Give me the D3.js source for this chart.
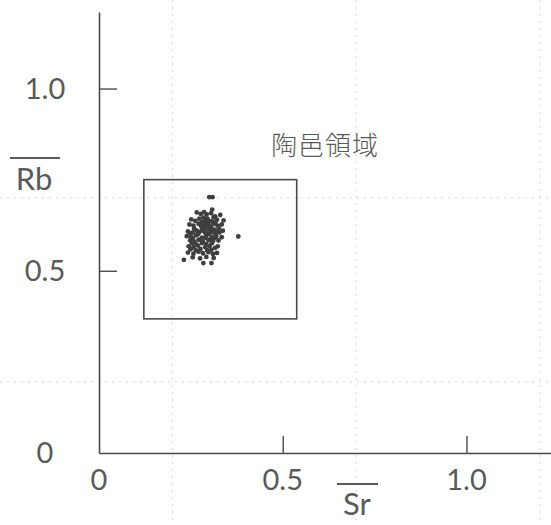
<!DOCTYPE html>
<html><head><meta charset="utf-8">
<script src="https://cdn.jsdelivr.net/npm/d3@7"></script>
<style>html,body{margin:0;padding:0;background:#fff;}svg{display:block;}</style>
</head><body>
<svg id="c" width="551" height="525"></svg>
<script>
// ---- data ----
const xTicks = [0.5, 1.0];
const yTicks = [0.5, 1.0];
const xTickLabels = ["0", "0.5", "1.0"];
const xTickLabelValues = [0, 0.5, 1.0];
const yTickLabels = ["0", "0.5", "1.0"];
const yTickLabelValues = [0, 0.5, 1.0];
const xTitle = "Sr";
const yTitle = "Rb";
const regionLabel = "陶邑領域";
// region box [x0, x1, y0, y1]
const regionBox = [0.122, 0.538, 0.368, 0.750];
// faint background grid (graph paper)
const gridX = [0.2, 0.7, 1.2];
const gridY = [0.195, 0.70];
// samples: Sr, Rb
const srVals = [
  0.300,0.309, 0.308,
  0.266,0.277,0.286,0.293,0.305, 0.316,0.330,
  0.251,0.262,0.273,0.289,0.296,0.307,0.321,0.339,
  0.246,0.257,0.271,0.278,0.287,0.298,0.305,0.316,0.323,0.334,
  0.242,0.255,0.266,0.273,0.285,0.292,0.303,0.310,0.321,0.328,0.337,
  0.239,0.251,0.264,0.280,0.292,0.307,0.319,0.334,0.379,
  0.248,0.260,0.271,0.283,0.298,0.310,0.325,
  0.244,0.257,0.269,0.289,0.301,0.316,0.323,
  0.242,0.257,0.271,0.283,0.298,0.310,0.321,
  0.255,0.275,0.292,0.312,
  0.231,0.284,0.306,
  0.280,0.291,0.299,0.310,0.317,
  0.259,0.280,0.287,0.298,0.305,0.314,0.326,
  0.248,0.269,0.289,0.299,0.316,
  0.255,0.276,0.289,0.303,0.315,
  0.253,0.265,0.280,0.292,0.307,
  0.249,0.264,0.276,0.294,0.306,
  0.284,0.293,0.312,
  0.291,0.301
];
const rbVals = [
  0.702,0.702, 0.668,
  0.660,0.656,0.661,0.655,0.658, 0.649,0.653,
  0.641,0.637,0.643,0.639,0.642,0.636,0.640,0.638,
  0.627,0.624,0.629,0.623,0.628,0.625,0.622,0.628,0.624,0.627,
  0.608,0.605,0.610,0.606,0.609,0.604,0.611,0.606,0.608,0.605,0.610,
  0.595,0.592,0.597,0.591,0.596,0.593,0.595,0.592,0.594,
  0.583,0.580,0.585,0.579,0.584,0.581,0.583,
  0.567,0.564,0.569,0.565,0.568,0.563,0.567,
  0.550,0.547,0.552,0.548,0.551,0.546,0.549,
  0.537,0.534,0.538,0.535,
  0.530,0.521,0.521,
  0.634,0.631,0.635,0.632,0.634,
  0.616,0.613,0.617,0.614,0.616,0.613,0.617,
  0.603,0.600,0.604,0.601,0.603,
  0.589,0.586,0.590,0.587,0.589,
  0.575,0.572,0.576,0.573,0.575,
  0.559,0.556,0.560,0.557,0.558,
  0.646,0.644,0.647,
  0.621,0.619
];

// ---- chart ----
const svg = d3.select("#c");
const x = d3.scaleLinear().domain([0, 1.23]).range([99, 551]);
const y = d3.scaleLinear().domain([0, 1.21]).range([453, 12]);
const ink = "#4a4a4a";
const textInk = "#5a5a5a";
const font = "Lato, 'DejaVu Sans', sans-serif";

// faint grid
svg.append("g").selectAll("line").data(gridX).join("line")
  .attr("x1", d => x(d)).attr("x2", d => x(d)).attr("y1", 0).attr("y2", 525)
  .attr("stroke", "#d4d4d4").attr("stroke-width", 1).attr("stroke-dasharray", "2,5");
svg.append("g").selectAll("line").data(gridY).join("line")
  .attr("x1", 0).attr("x2", 551).attr("y1", d => y(d)).attr("y2", d => y(d))
  .attr("stroke", "#d4d4d4").attr("stroke-width", 1).attr("stroke-dasharray", "2,5");

// axes
const xAxis = svg.append("g").attr("transform", `translate(0,${y(0)})`)
  .call(d3.axisBottom(x).tickValues(xTicks).tickSizeInner(-17).tickSizeOuter(0).tickFormat(""));
const yAxis = svg.append("g").attr("transform", `translate(${x(0)},0)`)
  .call(d3.axisLeft(y).tickValues(yTicks).tickSizeInner(-18).tickSizeOuter(0).tickFormat(""));
[xAxis, yAxis].forEach(g => {
  g.select(".domain").attr("stroke", ink).attr("stroke-width", 1.6);
  g.selectAll(".tick line").attr("stroke", ink).attr("stroke-width", 1.4);
});

// tick labels
svg.append("g").selectAll("text").data(xTickLabelValues).join("text")
  .attr("x", d => x(d)).attr("y", 490).attr("text-anchor", "middle")
  .attr("font-family", font).attr("font-size", 29).attr("fill", textInk)
  .text((d, i) => xTickLabels[i]);
svg.append("g").selectAll("text").data(yTickLabelValues).join("text")
  .attr("x", 45).attr("y", d => y(d)).attr("dy", "0.36em").attr("text-anchor", "middle")
  .attr("font-family", font).attr("font-size", 29).attr("fill", textInk)
  .text((d, i) => yTickLabels[i]);

// axis titles with overline
svg.append("text").attr("x", 357).attr("y", 515).attr("text-anchor", "middle")
  .attr("font-family", font).attr("font-size", 31).attr("fill", textInk).text(xTitle);
svg.append("line").attr("x1", 337).attr("x2", 378).attr("y1", 484).attr("y2", 484)
  .attr("stroke", textInk).attr("stroke-width", 1.8);
svg.append("text").attr("x", 34).attr("y", 190).attr("text-anchor", "middle")
  .attr("font-family", font).attr("font-size", 31).attr("fill", textInk).text(yTitle);
svg.append("line").attr("x1", 10).attr("x2", 60).attr("y1", 158).attr("y2", 158)
  .attr("stroke", textInk).attr("stroke-width", 1.8);

// region box
svg.append("rect")
  .attr("x", x(regionBox[0])).attr("y", y(regionBox[3]))
  .attr("width", x(regionBox[1]) - x(regionBox[0]))
  .attr("height", y(regionBox[2]) - y(regionBox[3]))
  .attr("fill", "none").attr("stroke", ink).attr("stroke-width", 1.6);

// region label
svg.append("text").attr("x", 325).attr("y", 155).attr("text-anchor", "middle")
  .attr("font-family", "'Noto Sans CJK JP', 'Noto Sans CJK SC', sans-serif")
  .attr("font-weight", 300).attr("font-size", 26).attr("letter-spacing", 1)
  .attr("fill", textInk).text(regionLabel);

// points
const pts = srVals.map((s, i) => ({sr: s, rb: rbVals[i]}));
svg.append("g").selectAll("circle").data(pts).join("circle")
  .attr("cx", d => x(d.sr)).attr("cy", d => y(d.rb)).attr("r", 2.4)
  .attr("fill", "#3f3f3f");
</script>
</body></html>
